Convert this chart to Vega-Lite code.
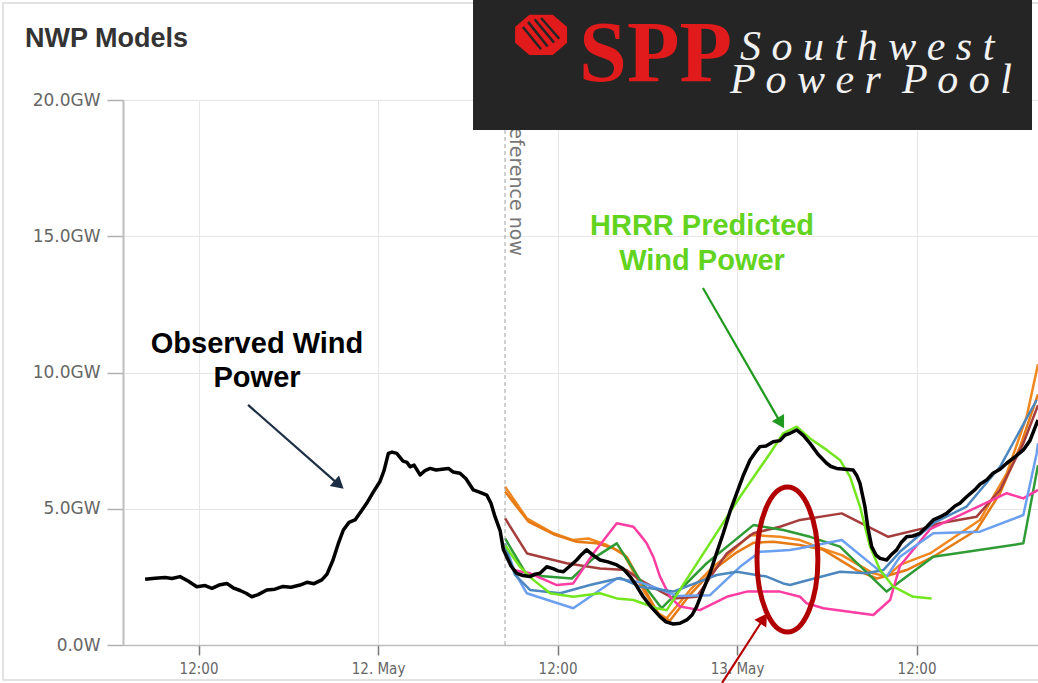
{
  "$schema": "https://vega.github.io/schema/vega-lite/v6.json",
  "width": 915,
  "height": 545,
  "autosize": "none",
  "padding": {"left": 123, "top": 100, "right": 0, "bottom": 38},
  "background": "white",
  "config": {
    "font": "Liberation Sans",
    "view": {"stroke": null},
    "axis": {"domainColor": "#bdbdbd", "gridColor": "#e6e6e6", "tickColor": "#b0b0b0", "labelColor": "#666666"}
  },
  "resolve": {"scale": {"color": "independent"}},
  "encoding": {
    "x": {"field": "t", "type": "quantitative", "scale": {"domain": [-17.05, 44.12], "nice": false, "zero": false},
      "axis": {"title": null, "values": [-12, 0, 12, 24, 36], "labelExpr": "datum.value % 24 == 0 ? (12 + datum.value / 24) + '. May' : '12:00'", "grid": true, "tickSize": 10, "tickColor": "#777777", "tickWidth": 1.5, "domainWidth": 1.5, "labelFont": "DejaVu Sans Condensed, Liberation Sans", "labelFontSize": 15, "labelPadding": 6, "labelFlush": false, "labelOverlap": false}},
    "y": {"field": "gw", "type": "quantitative", "scale": {"domain": [0, 20], "nice": false, "zero": false},
      "axis": {"title": null, "values": [0, 5, 10, 15, 20], "labelExpr": "datum.value == 0 ? '0.0W' : format(datum.value, '.1f') + 'GW'", "grid": true, "tickSize": 16, "tickWidth": 1.5, "domainWidth": 2, "labelFont": "DejaVu Sans", "labelFontSize": 17, "labelPadding": 7, "labelFlush": false, "labelOverlap": false}}
  },
  "datasets": {
    "frame": [{"t": -25.07, "t2": 50, "gw": 23.56, "gw2": -1.28}],
    "reference_line": [{"t": 8.49, "gw": 0, "gw2": 20}],
    "reference_label": [{"t": 8.49, "gw": 19.45, "label": "Reference now"}],
    "heading": [{"t": -23.60, "gw": 21.94, "text": "NWP Models"}],
    "forecast": [
      {"series": "Model 1", "t": 8.49, "gw": 5.81}, {"series": "Model 1", "t": 9.94, "gw": 4.65}, {"series": "Model 1", "t": 11.72, "gw": 4.10}, {"series": "Model 1", "t": 13.05, "gw": 3.85}, {"series": "Model 1", "t": 14.06, "gw": 3.91}, {"series": "Model 1", "t": 15.29, "gw": 3.67}, {"series": "Model 1", "t": 16.40, "gw": 3.36}, {"series": "Model 1", "t": 17.73, "gw": 2.02}, {"series": "Model 1", "t": 18.74, "gw": 1.16}, {"series": "Model 1", "t": 19.30, "gw": 0.98}, {"series": "Model 1", "t": 20.86, "gw": 2.02}, {"series": "Model 1", "t": 22.41, "gw": 2.87}, {"series": "Model 1", "t": 23.53, "gw": 3.36}, {"series": "Model 1", "t": 24.87, "gw": 4.04}, {"series": "Model 1", "t": 26.87, "gw": 3.97}, {"series": "Model 1", "t": 28.21, "gw": 3.85}, {"series": "Model 1", "t": 29.32, "gw": 3.61}, {"series": "Model 1", "t": 31.00, "gw": 3.30}, {"series": "Model 1", "t": 33.11, "gw": 2.63}, {"series": "Model 1", "t": 34.00, "gw": 2.51}, {"series": "Model 1", "t": 34.89, "gw": 2.94}, {"series": "Model 1", "t": 36.90, "gw": 3.36}, {"series": "Model 1", "t": 40.24, "gw": 4.59}, {"series": "Model 1", "t": 42.03, "gw": 6.30}, {"series": "Model 1", "t": 43.36, "gw": 8.38}, {"series": "Model 1", "t": 44.12, "gw": 10.3},
      {"series": "Model 2", "t": 8.49, "gw": 5.63}, {"series": "Model 2", "t": 10.05, "gw": 4.53}, {"series": "Model 2", "t": 11.83, "gw": 4.04}, {"series": "Model 2", "t": 13.28, "gw": 3.79}, {"series": "Model 2", "t": 14.62, "gw": 3.73}, {"series": "Model 2", "t": 15.73, "gw": 3.55}, {"series": "Model 2", "t": 16.62, "gw": 3.24}, {"series": "Model 2", "t": 17.96, "gw": 1.90}, {"series": "Model 2", "t": 18.85, "gw": 1.04}, {"series": "Model 2", "t": 19.52, "gw": 0.90}, {"series": "Model 2", "t": 20.86, "gw": 1.85}, {"series": "Model 2", "t": 22.41, "gw": 2.75}, {"series": "Model 2", "t": 23.98, "gw": 3.40}, {"series": "Model 2", "t": 25.09, "gw": 3.75}, {"series": "Model 2", "t": 26.42, "gw": 3.79}, {"series": "Model 2", "t": 28.21, "gw": 3.67}, {"series": "Model 2", "t": 29.77, "gw": 3.49}, {"series": "Model 2", "t": 32.00, "gw": 2.75}, {"series": "Model 2", "t": 33.34, "gw": 2.44}, {"series": "Model 2", "t": 34.23, "gw": 2.57}, {"series": "Model 2", "t": 35.34, "gw": 2.75}, {"series": "Model 2", "t": 37.12, "gw": 3.24}, {"series": "Model 2", "t": 40.02, "gw": 4.22}, {"series": "Model 2", "t": 41.58, "gw": 5.57}, {"series": "Model 2", "t": 42.92, "gw": 7.28}, {"series": "Model 2", "t": 44.12, "gw": 9.2},
      {"series": "Model 3", "t": 8.49, "gw": 4.65}, {"series": "Model 3", "t": 9.96, "gw": 3.36}, {"series": "Model 3", "t": 12.61, "gw": 3.00}, {"series": "Model 3", "t": 14.84, "gw": 2.81}, {"series": "Model 3", "t": 16.62, "gw": 2.75}, {"series": "Model 3", "t": 17.51, "gw": 2.39}, {"series": "Model 3", "t": 19.74, "gw": 1.71}, {"series": "Model 3", "t": 21.30, "gw": 1.77}, {"series": "Model 3", "t": 23.31, "gw": 3.36}, {"series": "Model 3", "t": 25.09, "gw": 4.10}, {"series": "Model 3", "t": 26.87, "gw": 4.34}, {"series": "Model 3", "t": 28.21, "gw": 4.59}, {"series": "Model 3", "t": 31.00, "gw": 4.83}, {"series": "Model 3", "t": 34.11, "gw": 3.97}, {"series": "Model 3", "t": 36.45, "gw": 4.28}, {"series": "Model 3", "t": 37.57, "gw": 4.47}, {"series": "Model 3", "t": 40.02, "gw": 4.71}, {"series": "Model 3", "t": 41.58, "gw": 5.69}, {"series": "Model 3", "t": 43.14, "gw": 7.40}, {"series": "Model 3", "t": 44.12, "gw": 8.80},
      {"series": "Model 4", "t": 8.49, "gw": 3.91}, {"series": "Model 4", "t": 9.94, "gw": 2.57}, {"series": "Model 4", "t": 11.28, "gw": 2.51}, {"series": "Model 4", "t": 12.95, "gw": 2.44}, {"series": "Model 4", "t": 14.39, "gw": 3.18}, {"series": "Model 4", "t": 15.96, "gw": 3.73}, {"series": "Model 4", "t": 17.51, "gw": 2.39}, {"series": "Model 4", "t": 18.96, "gw": 1.35}, {"series": "Model 4", "t": 21.97, "gw": 3.00}, {"series": "Model 4", "t": 25.09, "gw": 4.40}, {"series": "Model 4", "t": 27.09, "gw": 4.22}, {"series": "Model 4", "t": 28.88, "gw": 3.97}, {"series": "Model 4", "t": 30.88, "gw": 3.61}, {"series": "Model 4", "t": 34.00, "gw": 1.96}, {"series": "Model 4", "t": 35.34, "gw": 2.51}, {"series": "Model 4", "t": 37.12, "gw": 3.24}, {"series": "Model 4", "t": 43.14, "gw": 3.73}, {"series": "Model 4", "t": 44.12, "gw": 6.6},
      {"series": "Model 5", "t": 8.49, "gw": 3.55}, {"series": "Model 5", "t": 9.04, "gw": 2.75}, {"series": "Model 5", "t": 10.16, "gw": 2.63}, {"series": "Model 5", "t": 11.95, "gw": 2.20}, {"series": "Model 5", "t": 13.05, "gw": 2.26}, {"series": "Model 5", "t": 14.39, "gw": 3.36}, {"series": "Model 5", "t": 15.96, "gw": 4.47}, {"series": "Model 5", "t": 17.07, "gw": 4.34}, {"series": "Model 5", "t": 17.51, "gw": 4.05}, {"series": "Model 5", "t": 17.96, "gw": 3.73}, {"series": "Model 5", "t": 18.40, "gw": 3.24}, {"series": "Model 5", "t": 18.85, "gw": 2.51}, {"series": "Model 5", "t": 19.52, "gw": 1.77}, {"series": "Model 5", "t": 20.19, "gw": 1.41}, {"series": "Model 5", "t": 21.52, "gw": 1.28}, {"series": "Model 5", "t": 23.31, "gw": 1.77}, {"series": "Model 5", "t": 24.65, "gw": 1.96}, {"series": "Model 5", "t": 26.87, "gw": 1.96}, {"series": "Model 5", "t": 28.21, "gw": 1.77}, {"series": "Model 5", "t": 28.66, "gw": 1.53}, {"series": "Model 5", "t": 29.77, "gw": 1.35}, {"series": "Model 5", "t": 33.11, "gw": 1.10}, {"series": "Model 5", "t": 34.23, "gw": 1.65}, {"series": "Model 5", "t": 34.89, "gw": 2.90}, {"series": "Model 5", "t": 36.90, "gw": 4.25}, {"series": "Model 5", "t": 42.03, "gw": 5.57}, {"series": "Model 5", "t": 43.14, "gw": 5.38}, {"series": "Model 5", "t": 44.12, "gw": 5.69},
      {"series": "Model 6", "t": 8.49, "gw": 3.74}, {"series": "Model 6", "t": 9.16, "gw": 2.64}, {"series": "Model 6", "t": 9.94, "gw": 1.90}, {"series": "Model 6", "t": 13.05, "gw": 1.35}, {"series": "Model 6", "t": 15.96, "gw": 2.44}, {"series": "Model 6", "t": 17.51, "gw": 2.30}, {"series": "Model 6", "t": 18.85, "gw": 2.05}, {"series": "Model 6", "t": 19.97, "gw": 1.80}, {"series": "Model 6", "t": 22.19, "gw": 1.83}, {"series": "Model 6", "t": 24.20, "gw": 2.87}, {"series": "Model 6", "t": 25.53, "gw": 3.42}, {"series": "Model 6", "t": 27.54, "gw": 3.49}, {"series": "Model 6", "t": 28.21, "gw": 3.55}, {"series": "Model 6", "t": 31.00, "gw": 3.85}, {"series": "Model 6", "t": 34.00, "gw": 2.51}, {"series": "Model 6", "t": 34.89, "gw": 3.24}, {"series": "Model 6", "t": 37.12, "gw": 4.10}, {"series": "Model 6", "t": 40.24, "gw": 4.16}, {"series": "Model 6", "t": 43.14, "gw": 4.77}, {"series": "Model 6", "t": 44.03, "gw": 7.03}, {"series": "Model 6", "t": 44.12, "gw": 7.4},
      {"series": "Model 7", "t": 8.49, "gw": 3.60}, {"series": "Model 7", "t": 9.16, "gw": 2.57}, {"series": "Model 7", "t": 10.16, "gw": 2.02}, {"series": "Model 7", "t": 12.17, "gw": 1.90}, {"series": "Model 7", "t": 14.17, "gw": 2.20}, {"series": "Model 7", "t": 16.18, "gw": 2.46}, {"series": "Model 7", "t": 17.51, "gw": 2.14}, {"series": "Model 7", "t": 19.74, "gw": 1.96}, {"series": "Model 7", "t": 22.64, "gw": 2.57}, {"series": "Model 7", "t": 23.98, "gw": 2.69}, {"series": "Model 7", "t": 25.98, "gw": 2.51}, {"series": "Model 7", "t": 27.09, "gw": 2.26}, {"series": "Model 7", "t": 27.54, "gw": 2.20}, {"series": "Model 7", "t": 28.21, "gw": 2.30}, {"series": "Model 7", "t": 30.88, "gw": 2.69}, {"series": "Model 7", "t": 32.67, "gw": 2.63}, {"series": "Model 7", "t": 33.78, "gw": 2.75}, {"series": "Model 7", "t": 34.89, "gw": 3.42}, {"series": "Model 7", "t": 37.12, "gw": 4.47}, {"series": "Model 7", "t": 39.35, "gw": 5.08}, {"series": "Model 7", "t": 41.58, "gw": 6.54}, {"series": "Model 7", "t": 44.03, "gw": 8.99},
      {"series": "HRRR", "t": 8.49, "gw": 3.67}, {"series": "HRRR", "t": 9.16, "gw": 3.12}, {"series": "HRRR", "t": 9.49, "gw": 2.87}, {"series": "HRRR", "t": 10.38, "gw": 2.39}, {"series": "HRRR", "t": 11.50, "gw": 1.90}, {"series": "HRRR", "t": 13.05, "gw": 1.77}, {"series": "HRRR", "t": 14.84, "gw": 1.90}, {"series": "HRRR", "t": 15.96, "gw": 1.71}, {"series": "HRRR", "t": 17.07, "gw": 1.65}, {"series": "HRRR", "t": 18.63, "gw": 1.35}, {"series": "HRRR", "t": 19.30, "gw": 1.28}, {"series": "HRRR", "t": 19.97, "gw": 1.85}, {"series": "HRRR", "t": 24.20, "gw": 5.44}, {"series": "HRRR", "t": 26.20, "gw": 7.03}, {"series": "HRRR", "t": 27.09, "gw": 7.77}, {"series": "HRRR", "t": 27.99, "gw": 8.01}, {"series": "HRRR", "t": 28.88, "gw": 7.58}, {"series": "HRRR", "t": 29.99, "gw": 7.16}, {"series": "HRRR", "t": 30.88, "gw": 6.79}, {"series": "HRRR", "t": 31.55, "gw": 6.18}, {"series": "HRRR", "t": 32.22, "gw": 5.08}, {"series": "HRRR", "t": 32.89, "gw": 3.61}, {"series": "HRRR", "t": 33.56, "gw": 2.75}, {"series": "HRRR", "t": 34.45, "gw": 2.14}, {"series": "HRRR", "t": 35.78, "gw": 1.77}, {"series": "HRRR", "t": 37.01, "gw": 1.71}
    ],
    "observed": [
      {"t": -15.57, "gw": 2.41}, {"t": -14.91, "gw": 2.45}, {"t": -14.24, "gw": 2.48}, {"t": -13.77, "gw": 2.44}, {"t": -13.24, "gw": 2.51}, {"t": -12.70, "gw": 2.35}, {"t": -12.12, "gw": 2.14}, {"t": -11.56, "gw": 2.18}, {"t": -11.10, "gw": 2.08}, {"t": -10.63, "gw": 2.20}, {"t": -10.11, "gw": 2.26}, {"t": -9.69, "gw": 2.10}, {"t": -9.22, "gw": 2.00}, {"t": -8.82, "gw": 1.90}, {"t": -8.44, "gw": 1.77}, {"t": -8.02, "gw": 1.85}, {"t": -7.44, "gw": 2.02}, {"t": -6.89, "gw": 2.05}, {"t": -6.35, "gw": 2.15}, {"t": -5.82, "gw": 2.12}, {"t": -5.21, "gw": 2.20}, {"t": -4.75, "gw": 2.30}, {"t": -4.28, "gw": 2.25}, {"t": -3.76, "gw": 2.39}, {"t": -3.41, "gw": 2.60}, {"t": -3.01, "gw": 3.12}, {"t": -2.67, "gw": 3.70}, {"t": -2.32, "gw": 4.22}, {"t": -1.94, "gw": 4.50}, {"t": -1.54, "gw": 4.59}, {"t": -1.14, "gw": 4.90}, {"t": -0.76, "gw": 5.20}, {"t": -0.33, "gw": 5.60}, {"t": 0.13, "gw": 6.00}, {"t": 0.40, "gw": 6.40}, {"t": 0.69, "gw": 7.03}, {"t": 0.94, "gw": 7.08}, {"t": 1.25, "gw": 7.03}, {"t": 1.67, "gw": 6.75}, {"t": 1.94, "gw": 6.70}, {"t": 2.14, "gw": 6.54}, {"t": 2.41, "gw": 6.60}, {"t": 2.81, "gw": 6.24}, {"t": 3.14, "gw": 6.40}, {"t": 3.48, "gw": 6.48}, {"t": 3.88, "gw": 6.42}, {"t": 4.28, "gw": 6.45}, {"t": 4.70, "gw": 6.48}, {"t": 5.01, "gw": 6.35}, {"t": 5.48, "gw": 6.30}, {"t": 5.88, "gw": 6.10}, {"t": 6.37, "gw": 5.69}, {"t": 6.82, "gw": 5.60}, {"t": 7.27, "gw": 5.50}, {"t": 7.55, "gw": 5.20}, {"t": 7.82, "gw": 4.71}, {"t": 8.16, "gw": 4.20}, {"t": 8.38, "gw": 3.50}, {"t": 8.60, "gw": 3.24}, {"t": 8.89, "gw": 2.90}, {"t": 9.27, "gw": 2.63}, {"t": 9.69, "gw": 2.55}, {"t": 10.16, "gw": 2.51}, {"t": 10.49, "gw": 2.60}, {"t": 10.83, "gw": 2.63}, {"t": 11.28, "gw": 2.87}, {"t": 11.70, "gw": 2.80}, {"t": 12.03, "gw": 2.72}, {"t": 12.39, "gw": 2.69}, {"t": 12.83, "gw": 2.90}, {"t": 13.28, "gw": 3.12}, {"t": 13.57, "gw": 3.30}, {"t": 13.95, "gw": 3.49}, {"t": 14.37, "gw": 3.30}, {"t": 14.84, "gw": 3.12}, {"t": 15.37, "gw": 3.05}, {"t": 15.96, "gw": 2.94}, {"t": 16.38, "gw": 2.80}, {"t": 16.85, "gw": 2.51}, {"t": 17.25, "gw": 2.20}, {"t": 17.73, "gw": 1.77}, {"t": 18.25, "gw": 1.40}, {"t": 18.85, "gw": 1.04}, {"t": 19.25, "gw": 0.85}, {"t": 19.74, "gw": 0.77}, {"t": 20.19, "gw": 0.80}, {"t": 20.64, "gw": 0.92}, {"t": 20.99, "gw": 1.10}, {"t": 21.30, "gw": 1.41}, {"t": 21.72, "gw": 2.00}, {"t": 22.19, "gw": 2.63}, {"t": 22.59, "gw": 3.30}, {"t": 23.08, "gw": 4.10}, {"t": 23.53, "gw": 4.90}, {"t": 23.98, "gw": 5.57}, {"t": 24.40, "gw": 6.20}, {"t": 24.87, "gw": 6.79}, {"t": 25.27, "gw": 7.10}, {"t": 25.53, "gw": 7.28}, {"t": 25.94, "gw": 7.30}, {"t": 26.42, "gw": 7.46}, {"t": 26.87, "gw": 7.50}, {"t": 27.21, "gw": 7.70}, {"t": 27.54, "gw": 7.77}, {"t": 27.99, "gw": 7.89}, {"t": 28.41, "gw": 7.70}, {"t": 28.88, "gw": 7.40}, {"t": 29.41, "gw": 7.00}, {"t": 29.99, "gw": 6.67}, {"t": 30.28, "gw": 6.55}, {"t": 30.66, "gw": 6.48}, {"t": 31.22, "gw": 6.45}, {"t": 31.77, "gw": 6.42}, {"t": 32.02, "gw": 6.20}, {"t": 32.22, "gw": 5.93}, {"t": 32.55, "gw": 5.08}, {"t": 32.75, "gw": 4.30}, {"t": 33.00, "gw": 3.61}, {"t": 33.29, "gw": 3.30}, {"t": 33.56, "gw": 3.18}, {"t": 34.00, "gw": 3.12}, {"t": 34.29, "gw": 3.30}, {"t": 34.67, "gw": 3.49}, {"t": 34.96, "gw": 3.75}, {"t": 35.34, "gw": 3.97}, {"t": 35.76, "gw": 4.00}, {"t": 36.23, "gw": 4.10}, {"t": 36.70, "gw": 4.35}, {"t": 37.12, "gw": 4.59}, {"t": 37.57, "gw": 4.70}, {"t": 38.01, "gw": 4.83}, {"t": 38.57, "gw": 5.10}, {"t": 38.90, "gw": 5.20}, {"t": 39.35, "gw": 5.44}, {"t": 39.91, "gw": 5.70}, {"t": 40.24, "gw": 5.90}, {"t": 40.69, "gw": 6.06}, {"t": 41.11, "gw": 6.30}, {"t": 41.58, "gw": 6.45}, {"t": 42.03, "gw": 6.67}, {"t": 42.58, "gw": 6.90}, {"t": 43.14, "gw": 7.16}, {"t": 43.58, "gw": 7.50}, {"t": 44.12, "gw": 8.26}
    ],
    "arrows": [
      {"arrow": "observed", "t": -8.69, "gw": 8.81, "t2": -2.74, "gw2": 5.94},
      {"arrow": "hrrr", "t": 21.72, "gw": 13.10, "t2": 26.80, "gw2": 8.26},
      {"arrow": "callout", "t": 23.00, "gw": -1.39, "t2": 25.67, "gw2": 0.88}
    ],
    "head_observed": [{"t": -2.61, "gw": 5.88}],
    "head_hrrr": [{"t": 26.94, "gw": 8.15}],
    "head_callout": [{"t": 25.78, "gw": 0.97}],
    "ellipse": [{"t": 27.37, "gw": 3.14}],
    "label_observed": [{"t": -8.09, "gw": 11.05, "text": "Observed Wind\nPower"}],
    "label_hrrr": [{"t": 21.66, "gw": 15.38, "text": "HRRR Predicted\nWind Power"}],
    "logo_box": [{"t": 6.35, "t2": 43.72, "gw": 18.9, "gw2": 23.7}],
    "logo_mark": [{"t": 10.90, "gw": 22.39}],
    "logo_spp": [{"t": 13.44, "gw": 20.70, "text": "SPP"}],
    "logo_line1": [{"t": 24.20, "gw": 21.47, "text": "S o u t h w e s t"}],
    "logo_line2": [{"t": 23.53, "gw": 20.26, "text": "P o w e r \u00a0P o o l"}]
  },
  "layer": [
    {
      "data": {"name": "forecast"},
      "mark": {"type": "line", "strokeWidth": 2.5, "strokeJoin": "round"},
      "encoding": {
        "color": {"field": "series", "type": "nominal", "legend": null,
          "scale": {"domain": ["Model 1", "Model 2", "Model 3", "Model 4", "Model 5", "Model 6", "Model 7", "HRRR"],
                    "range": ["#f0871f", "#e67a14", "#a63d3d", "#2f9b35", "#ff3da3", "#6b9ff0", "#4c87c0", "#73e61e"]}},
        "detail": {"field": "series"}
      }
    },
    {
      "data": {"name": "frame"},
      "mark": {"type": "rect", "fillOpacity": 0, "stroke": "#d9d9d9", "strokeWidth": 1.5},
      "encoding": {"x2": {"field": "t2"}, "y2": {"field": "gw2"}}
    },
    {
      "data": {"name": "reference_line"},
      "mark": {"type": "rule", "color": "#a0a0a0", "strokeWidth": 1, "strokeDash": [4, 3]},
      "encoding": {"y2": {"field": "gw2"}}
    },
    {
      "data": {"name": "reference_label"},
      "mark": {"type": "text", "angle": 90, "align": "left", "baseline": "alphabetic", "dy": -5, "font": "DejaVu Sans", "fontSize": 19, "color": "#777777"},
      "encoding": {"text": {"field": "label"}}
    },
    {
      "data": {"name": "observed"},
      "mark": {"type": "line", "color": "#000000", "strokeWidth": 3.5, "strokeJoin": "round"},
      "encoding": {}
    },
    {
      "data": {"name": "ellipse"},
      "mark": {"type": "point", "shape": "M0,-1C0.232,-1,0.42,-0.552,0.42,0C0.42,0.552,0.232,1,0,1C-0.232,1,-0.42,0.552,-0.42,0C-0.42,-0.552,-0.232,-1,0,-1Z", "size": 21025, "filled": false, "color": "#b20000", "strokeWidth": 5, "opacity": 1},
      "encoding": {}
    },
    {
      "data": {"name": "arrows"},
      "mark": {"type": "rule", "strokeWidth": 2.2},
      "encoding": {
        "x2": {"field": "t2"},
        "y2": {"field": "gw2"},
        "color": {"field": "arrow", "type": "nominal", "legend": null, "scale": {"domain": ["observed", "hrrr", "callout"], "range": ["#1c2e44", "#1f9a1f", "#b30000"]}}
      }
    },
    {
      "data": {"name": "head_observed"},
      "mark": {"type": "point", "shape": "triangle-up", "size": 200, "angle": 131, "filled": true, "color": "#1c2e44", "opacity": 1},
      "encoding": {}
    },
    {
      "data": {"name": "head_hrrr"},
      "mark": {"type": "point", "shape": "triangle-up", "size": 200, "angle": 150, "filled": true, "color": "#1f9a1f", "opacity": 1},
      "encoding": {}
    },
    {
      "data": {"name": "head_callout"},
      "mark": {"type": "point", "shape": "triangle-up", "size": 200, "angle": 33, "filled": true, "color": "#b30000", "opacity": 1},
      "encoding": {}
    },
    {
      "data": {"name": "label_observed"},
      "mark": {"type": "text", "lineBreak": "\n", "lineHeight": 34, "align": "center", "baseline": "middle", "font": "Liberation Sans", "fontSize": 29, "fontWeight": "bold", "color": "#000000"},
      "encoding": {"text": {"field": "text"}}
    },
    {
      "data": {"name": "label_hrrr"},
      "mark": {"type": "text", "lineBreak": "\n", "lineHeight": 35, "align": "center", "baseline": "middle", "font": "Liberation Sans", "fontSize": 29, "fontWeight": "bold", "color": "#62d31e"},
      "encoding": {"text": {"field": "text"}}
    },
    {
      "data": {"name": "heading"},
      "mark": {"type": "text", "align": "left", "baseline": "alphabetic", "font": "Liberation Sans", "fontSize": 27, "fontWeight": "bold", "color": "#333333"},
      "encoding": {"text": {"field": "text"}}
    },
    {
      "data": {"name": "logo_box"},
      "mark": {"type": "rect", "color": "#252525"},
      "encoding": {"x2": {"field": "t2"}, "y2": {"field": "gw2"}}
    },
    {
      "data": {"name": "logo_mark"},
      "mark": {"type": "point", "shape": "M-1,-0.3L-0.45,-0.77L0.45,-0.77L1,-0.3L1,0.3L0.45,0.77L-0.45,0.77L-1,0.3Z", "size": 2704, "filled": true, "color": "#e11b1b", "opacity": 1},
      "encoding": {}
    },
    {
      "data": {"name": "logo_mark"},
      "mark": {"type": "point", "shape": "M-0.7,-0.3L0.0,0.55M-0.5,-0.5L0.25,0.45M-0.25,-0.6L0.5,0.3M0.0,-0.65L0.7,0.15", "size": 2704, "filled": false, "color": "#252525", "strokeWidth": 2.5, "opacity": 1},
      "encoding": {}
    },
    {
      "data": {"name": "logo_spp"},
      "mark": {"type": "text", "align": "left", "baseline": "alphabetic", "font": "Liberation Serif", "fontSize": 86, "fontWeight": "bold", "color": "#e11b1b"},
      "encoding": {"text": {"field": "text"}}
    },
    {
      "data": {"name": "logo_line1"},
      "mark": {"type": "text", "align": "left", "baseline": "alphabetic", "font": "Liberation Serif", "fontSize": 42, "fontStyle": "italic", "color": "#f2f2f2"},
      "encoding": {"text": {"field": "text"}}
    },
    {
      "data": {"name": "logo_line2"},
      "mark": {"type": "text", "align": "left", "baseline": "alphabetic", "font": "Liberation Serif", "fontSize": 42, "fontStyle": "italic", "color": "#f2f2f2"},
      "encoding": {"text": {"field": "text"}}
    }
  ]
}
